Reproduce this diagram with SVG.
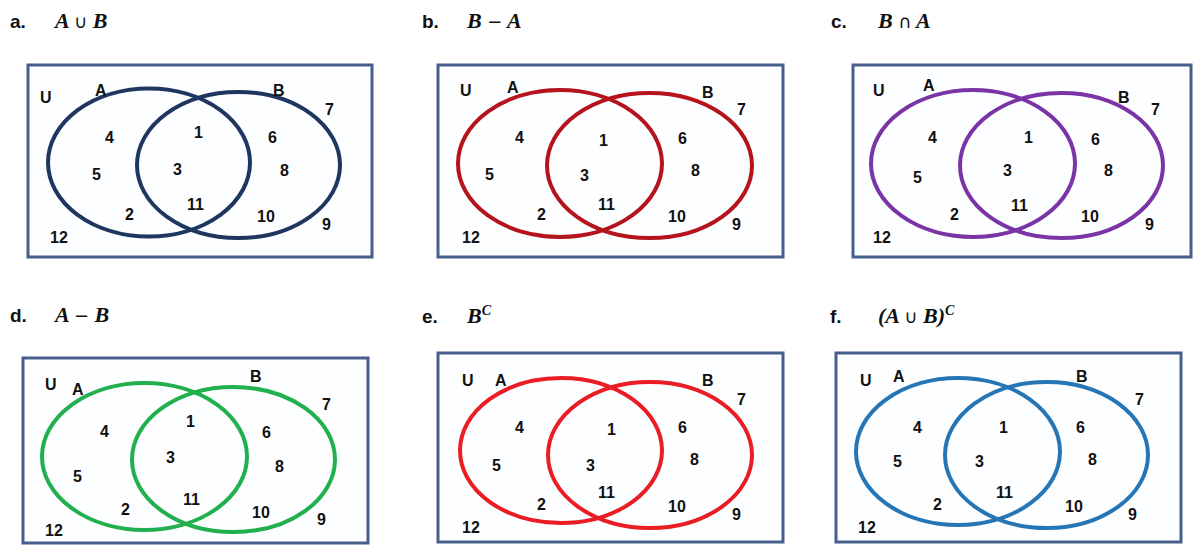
<svg xmlns="http://www.w3.org/2000/svg" width="1193" height="546" viewBox="0 0 1193 546">
<style>
.bg{fill:#ffffff}
.frame{fill:#fdfeff;stroke:#465f8c;stroke-width:3}
.ell{fill:none;stroke-width:4}
.navy{stroke:#1f3760}
.dred{stroke:#b5141c}
.purple{stroke:#7a34a6}
.green{stroke:#22b04e}
.red{stroke:#ea1c24}
.blue{stroke:#2676b5}
.t{font-family:"Liberation Sans",Arial,sans-serif;font-weight:bold;font-size:16px;fill:#111}
.lbl{font-family:"Liberation Sans",Arial,sans-serif;font-weight:bold;font-size:19px;fill:#111}
.f{font-family:"Liberation Serif","DejaVu Serif",serif;font-weight:bold;font-style:italic;font-size:22px;fill:#111}
.fu{font-family:"DejaVu Sans",sans-serif;font-style:normal;font-weight:normal;font-size:18px}
.sup{font-size:14px}
</style>
<rect class="bg" x="0" y="0" width="1193" height="546"/>

<g id="panel-a">
<text class="lbl" x="10" y="28">a.</text>
<text class="f" x="55" y="28">A <tspan class="fu">∪</tspan> B</text>
<rect class="frame" x="28" y="65" width="344" height="192"/>
<ellipse class="ell navy" cx="149" cy="162.5" rx="101" ry="74"/>
<ellipse class="ell navy" cx="238.5" cy="165" rx="101.5" ry="73"/>
<text class="t" x="40" y="103">U</text>
<text class="t" x="95" y="96">A</text>
<text class="t" x="273" y="96">B</text>
<text class="t" x="325" y="115">7</text>
<text class="t" x="105" y="143">4</text>
<text class="t" x="194" y="138">1</text>
<text class="t" x="268" y="143">6</text>
<text class="t" x="92" y="180">5</text>
<text class="t" x="173" y="175">3</text>
<text class="t" x="280" y="176">8</text>
<text class="t" x="187" y="210">11</text>
<text class="t" x="125" y="220">2</text>
<text class="t" x="257" y="222">10</text>
<text class="t" x="322" y="230">9</text>
<text class="t" x="50" y="243">12</text>
</g>

<g id="panel-b">
<text class="lbl" x="422" y="28">b.</text>
<text class="f" x="467" y="28">B <tspan class="fu">−</tspan> A</text>
<rect class="frame" x="438" y="65" width="345" height="192"/>
<ellipse class="ell dred" cx="560" cy="163.5" rx="102" ry="73.5"/>
<ellipse class="ell dred" cx="649.5" cy="165.5" rx="102.5" ry="72.5"/>
<text class="t" x="460" y="96">U</text>
<text class="t" x="507" y="93">A</text>
<text class="t" x="702" y="98">B</text>
<text class="t" x="737" y="115">7</text>
<text class="t" x="515" y="143">4</text>
<text class="t" x="599" y="146">1</text>
<text class="t" x="678" y="144">6</text>
<text class="t" x="485" y="180">5</text>
<text class="t" x="580" y="181">3</text>
<text class="t" x="691" y="176">8</text>
<text class="t" x="598" y="210">11</text>
<text class="t" x="537" y="220">2</text>
<text class="t" x="668" y="222">10</text>
<text class="t" x="732" y="230">9</text>
<text class="t" x="462" y="243">12</text>
</g>

<g id="panel-c">
<text class="lbl" x="831" y="28">c.</text>
<text class="f" x="878" y="28">B <tspan class="fu">∩</tspan> A</text>
<rect class="frame" x="853" y="65" width="338" height="192"/>
<ellipse class="ell purple" cx="973" cy="163.5" rx="102" ry="73.5"/>
<ellipse class="ell purple" cx="1061.5" cy="165.5" rx="101.5" ry="72.5"/>
<text class="t" x="873" y="96">U</text>
<text class="t" x="923" y="91">A</text>
<text class="t" x="1118" y="103">B</text>
<text class="t" x="1151" y="115">7</text>
<text class="t" x="928" y="143">4</text>
<text class="t" x="1024" y="143">1</text>
<text class="t" x="1091" y="145">6</text>
<text class="t" x="913" y="183">5</text>
<text class="t" x="1003" y="176">3</text>
<text class="t" x="1104" y="176">8</text>
<text class="t" x="1011" y="211">11</text>
<text class="t" x="950" y="220">2</text>
<text class="t" x="1081" y="222">10</text>
<text class="t" x="1145" y="230">9</text>
<text class="t" x="873" y="243">12</text>
</g>

<g id="panel-d">
<text class="lbl" x="10" y="322">d.</text>
<text class="f" x="55" y="322">A <tspan class="fu">−</tspan> B</text>
<rect class="frame" x="23" y="358" width="345" height="185"/>
<ellipse class="ell green" cx="144.5" cy="456.5" rx="102.5" ry="73.5"/>
<ellipse class="ell green" cx="233.5" cy="459.5" rx="101.5" ry="72.5"/>
<text class="t" x="45" y="390">U</text>
<text class="t" x="72" y="395">A</text>
<text class="t" x="250" y="382">B</text>
<text class="t" x="322" y="410">7</text>
<text class="t" x="100" y="437">4</text>
<text class="t" x="186" y="427">1</text>
<text class="t" x="262" y="438">6</text>
<text class="t" x="73" y="482">5</text>
<text class="t" x="166" y="463">3</text>
<text class="t" x="275" y="472">8</text>
<text class="t" x="183" y="505">11</text>
<text class="t" x="121" y="515">2</text>
<text class="t" x="252" y="518">10</text>
<text class="t" x="317" y="525">9</text>
<text class="t" x="45" y="536">12</text>
</g>

<g id="panel-e">
<text class="lbl" x="422" y="323">e.</text>
<text class="f" x="467" y="323">B<tspan class="sup" dy="-8">C</tspan></text>
<rect class="frame" x="438" y="353" width="345" height="189"/>
<ellipse class="ell red" cx="561" cy="450.5" rx="101" ry="72.5"/>
<ellipse class="ell red" cx="650" cy="455" rx="102" ry="73"/>
<text class="t" x="462" y="386">U</text>
<text class="t" x="495" y="386">A</text>
<text class="t" x="702" y="386">B</text>
<text class="t" x="737" y="405">7</text>
<text class="t" x="515" y="433">4</text>
<text class="t" x="607" y="435">1</text>
<text class="t" x="678" y="433">6</text>
<text class="t" x="492" y="471">5</text>
<text class="t" x="586" y="471">3</text>
<text class="t" x="690" y="465">8</text>
<text class="t" x="598" y="498">11</text>
<text class="t" x="537" y="510">2</text>
<text class="t" x="668" y="512">10</text>
<text class="t" x="732" y="520">9</text>
<text class="t" x="462" y="533">12</text>
</g>

<g id="panel-f">
<text class="lbl" x="830" y="323">f.</text>
<text class="f" x="878" y="323">(A <tspan class="fu">∪</tspan> B)<tspan class="sup" dy="-8">C</tspan></text>
<rect class="frame" x="836" y="353" width="345" height="189"/>
<ellipse class="ell blue" cx="958" cy="451.5" rx="102" ry="73.5"/>
<ellipse class="ell blue" cx="1046.5" cy="455" rx="101.5" ry="73"/>
<text class="t" x="860" y="386">U</text>
<text class="t" x="893" y="382">A</text>
<text class="t" x="1076" y="382">B</text>
<text class="t" x="1135" y="405">7</text>
<text class="t" x="913" y="433">4</text>
<text class="t" x="999" y="433">1</text>
<text class="t" x="1076" y="433">6</text>
<text class="t" x="893" y="467">5</text>
<text class="t" x="975" y="467">3</text>
<text class="t" x="1088" y="465">8</text>
<text class="t" x="996" y="498">11</text>
<text class="t" x="933" y="510">2</text>
<text class="t" x="1065" y="512">10</text>
<text class="t" x="1128" y="520">9</text>
<text class="t" x="858" y="533">12</text>
</g>
</svg>
